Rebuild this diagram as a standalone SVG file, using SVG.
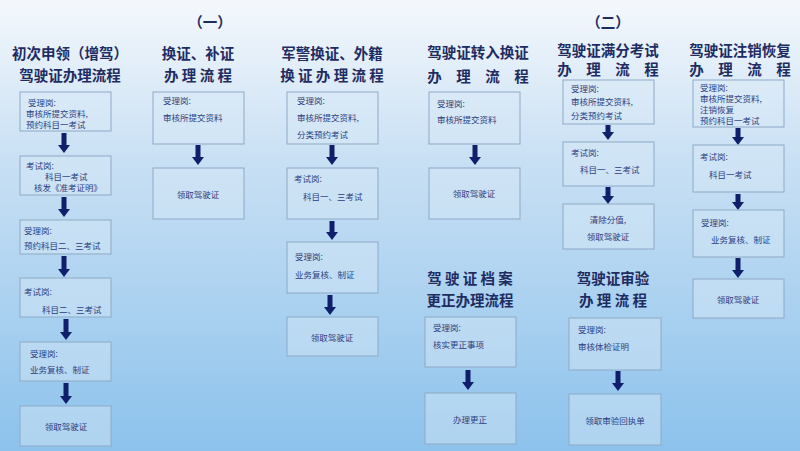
<svg xmlns="http://www.w3.org/2000/svg" width="800" height="451" viewBox="0 0 800 451">
<defs>
<linearGradient id="bg" x1="0" y1="0" x2="0" y2="1">
<stop offset="0" stop-color="#f4f8fc"/><stop offset="0.35" stop-color="#c9e0f4"/><stop offset="1" stop-color="#8cc2ec"/>
</linearGradient>
<style>
.b{fill:#d6e8f7;fill-opacity:0.45;stroke:#8ea9c6;stroke-width:1}
.t{font-family:"Noto Sans CJK SC",sans-serif;font-size:8.5px;fill:#2b3d80}
.h{font-family:"Noto Sans CJK SC",sans-serif;font-size:14.5px;font-weight:bold;fill:#1e2c62;text-anchor:middle}
.a{fill:#0f1f6b}
.c{text-anchor:middle}
</style>
</defs>
<rect width="800" height="451" fill="url(#bg)"/>
<text class="h" x="210" y="28" font-size="17">（一）</text>
<text class="h" x="608" y="28" font-size="17">（二）</text>
<g id="titles">
<text class="h" x="70" y="59">初次申领（增驾）</text>
<text class="h" x="70" y="81">驾驶证办理流程</text>
<text class="h" x="198" y="59">换证、补证</text>
<text class="h" x="198" y="81">办 理 流 程</text>
<text class="h" x="332" y="59">军警换证、外籍</text>
<text class="h" x="332" y="81">换 证 办 理 流 程</text>
<text class="h" x="478" y="58">驾驶证转入换证</text>
<text class="h" x="478" y="82">办　理　流　程</text>
<text class="h" x="608" y="56">驾驶证满分考试</text>
<text class="h" x="608" y="75">办　理　流　程</text>
<text class="h" x="740" y="56">驾驶证注销恢复</text>
<text class="h" x="740" y="75">办　理　流　程</text>
<text class="h" x="470" y="284">驾 驶 证 档 案</text>
<text class="h" x="470" y="306">更正办理流程</text>
<text class="h" x="613" y="284">驾驶证审验</text>
<text class="h" x="613" y="306">办 理 流 程</text>
</g>
<g id="connectors" class="a">
<path d="M61.5 133H66.5V145H70L64 153L58 145H61.5Z"/>
<path d="M61.5 197H66.5V209H70L64 217L58 209H61.5Z"/>
<path d="M61.5 256H66.5V269H70L64 277L58 269H61.5Z"/>
<path d="M63.5 319H68.5V332H72L66 340L60 332H63.5Z"/>
<path d="M63.5 383H68.5V396H72L66 404L60 396H63.5Z"/>
<path d="M195.5 145H200.5V157H204L198 165L192 157H195.5Z"/>
<path d="M329.5 145H334.5V157H338L332 165L326 157H329.5Z"/>
<path d="M329.5 221H334.5V232H338L332 240L326 232H329.5Z"/>
<path d="M327.5 295H332.5V307H336L330 315L324 307H327.5Z"/>
<path d="M472.5 145H477.5V157H481L475 165L469 157H472.5Z"/>
<path d="M465.5 370H470.5V382H474L468 390L462 382H465.5Z"/>
<path d="M605.5 125H610.5V132H614L608 140L602 132H605.5Z"/>
<path d="M605.5 187H610.5V196H614L608 204L602 196H605.5Z"/>
<path d="M615.5 371H620.5V383H624L618 391L612 383H615.5Z"/>
<path d="M735.5 128H740.5V137H744L738 145L732 137H735.5Z"/>
<path d="M735.5 194H740.5V202H744L738 210L732 202H735.5Z"/>
<path d="M735.5 258H740.5V270H744L738 278L732 270H735.5Z"/>
</g>
<g id="c1n1"><rect class="b" x="20" y="92" width="91" height="39"/><text class="t" x="28" y="106">受理岗:</text><text class="t" x="26" y="117">审核所提交资料,</text><text class="t" x="26" y="128">预约科目一考试</text></g>
<g id="c1n2"><rect class="b" x="20" y="156" width="91" height="39"/><text class="t" x="26" y="169">考试岗:</text><text class="t" x="45" y="180">科目一考试</text><text class="t" x="34" y="191">核发《准考证明》</text></g>
<g id="c1n3"><rect class="b" x="20" y="220" width="91" height="34"/><text class="t" x="24" y="234">受理岗:</text><text class="t" x="24" y="249">预约科目二、三考试</text></g>
<g id="c1n4"><rect class="b" x="20" y="278" width="91" height="39"/><text class="t" x="24" y="295">考试岗:</text><text class="t" x="42" y="313">科目二、三考试</text></g>
<g id="c1n5"><rect class="b" x="20" y="342" width="91" height="39"/><text class="t" x="30" y="357">受理岗:</text><text class="t" x="30" y="373">业务复核、制证</text></g>
<g id="c1n6"><rect class="b" x="20" y="406" width="91" height="40"/><text class="t c" x="66" y="430">领取驾驶证</text></g>
<g id="c2n1"><rect class="b" x="153" y="92" width="91" height="52"/><text class="t" x="163" y="104">受理岗:</text><text class="t" x="163" y="121">审核所提交资料</text></g>
<g id="c2n2"><rect class="b" x="153" y="168" width="91" height="51"/><text class="t c" x="198" y="198">领取驾驶证</text></g>
<g id="c3n1"><rect class="b" x="287" y="92" width="91" height="52"/><text class="t" x="297" y="104">受理岗:</text><text class="t" x="297" y="121">审核所提交资料,</text><text class="t" x="297" y="138">分类预约考试</text></g>
<g id="c3n2"><rect class="b" x="287" y="168" width="91" height="51"/><text class="t" x="294" y="182">考试岗:</text><text class="t" x="303" y="200">科目一、三考试</text></g>
<g id="c3n3"><rect class="b" x="287" y="242" width="91" height="51"/><text class="t" x="295" y="260">受理岗:</text><text class="t" x="295" y="278">业务复核、制证</text></g>
<g id="c3n4"><rect class="b" x="287" y="317" width="91" height="39"/><text class="t c" x="332" y="341">领取驾驶证</text></g>
<g id="c4n1"><rect class="b" x="429" y="92" width="91" height="52"/><text class="t" x="437" y="107">受理岗:</text><text class="t" x="437" y="123">审核所提交资料</text></g>
<g id="c4n2"><rect class="b" x="429" y="168" width="91" height="51"/><text class="t c" x="474" y="197">领取驾驶证</text></g>
<g id="c4n3"><rect class="b" x="425" y="317" width="91" height="50"/><text class="t" x="433" y="331">受理岗:</text><text class="t" x="433" y="348">核实更正事项</text></g>
<g id="c4n4"><rect class="b" x="425" y="393" width="91" height="51"/><text class="t c" x="470" y="423">办理更正</text></g>
<g id="c5n1"><rect class="b" x="563" y="80" width="91" height="44"/><text class="t" x="571" y="92">受理岗:</text><text class="t" x="571" y="105">审核所提交资料,</text><text class="t" x="571" y="119">分类预约考试</text></g>
<g id="c5n2"><rect class="b" x="563" y="142" width="91" height="44"/><text class="t" x="571" y="156">考试岗:</text><text class="t" x="580" y="173">科目一、三考试</text></g>
<g id="c5n3"><rect class="b" x="563" y="204" width="91" height="45"/><text class="t c" x="608" y="223">清除分值,</text><text class="t c" x="608" y="240">领取驾驶证</text></g>
<g id="c5n4"><rect class="b" x="569" y="318" width="92" height="52"/><text class="t" x="578" y="333">受理岗:</text><text class="t" x="578" y="350">审核体检证明</text></g>
<g id="c5n5"><rect class="b" x="569" y="394" width="92" height="51"/><text class="t c" x="615" y="424">领取审验回执单</text></g>
<g id="c6n1"><rect class="b" x="693" y="80" width="91" height="47"/><text class="t" x="700" y="91">受理岗:</text><text class="t" x="700" y="102">审核所提交资料,</text><text class="t" x="700" y="113">注销恢复</text><text class="t" x="700" y="124">预约科目一考试</text></g>
<g id="c6n2"><rect class="b" x="693" y="145" width="91" height="47"/><text class="t" x="700" y="160">考试岗:</text><text class="t" x="709" y="178">科目一考试</text></g>
<g id="c6n3"><rect class="b" x="693" y="210" width="91" height="47"/><text class="t" x="701" y="226">受理岗:</text><text class="t" x="711" y="243">业务复核、制证</text></g>
<g id="c6n4"><rect class="b" x="693" y="279" width="91" height="39"/><text class="t c" x="738" y="303">领取驾驶证</text></g>
</svg>
